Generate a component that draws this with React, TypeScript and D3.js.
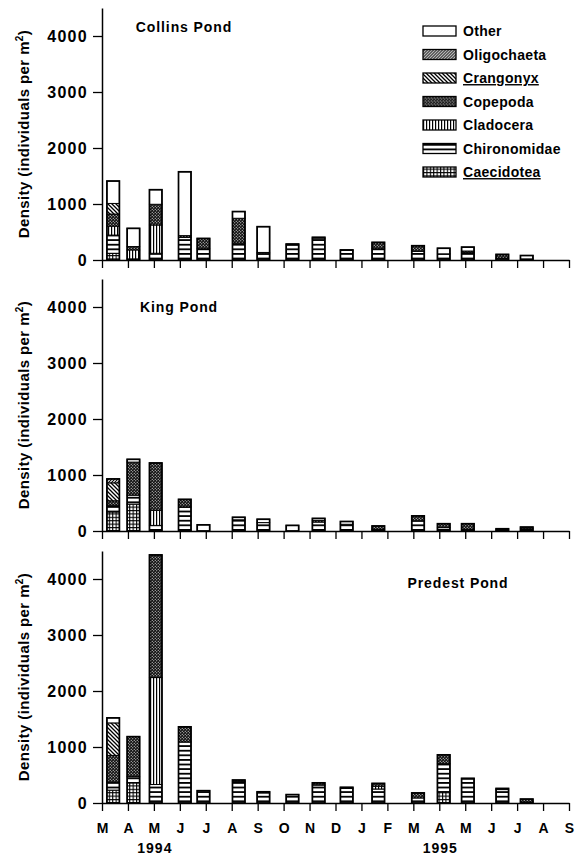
import React, { useEffect, useRef } from 'react';
import * as d3 from 'd3';

// x axis: months from March 1994 to September 1995
const monthLabels = ["M", "A", "M", "J", "J", "A", "S", "O", "N", "D", "J", "F", "M", "A", "M", "J", "J", "A", "S"];
const yearLabels = ["1994", "1995"];
const yearMonthIndex = [2, 13];

// stacking order, bottom to top
const taxa = ["Caecidotea", "Chironomidae", "Cladocera", "Copepoda", "Crangonyx", "Oligochaeta", "Other"];
const legendOrder = ["Other", "Oligochaeta", "Crangonyx", "Copepoda", "Cladocera", "Chironomidae", "Caecidotea"];
const underlined = ["Crangonyx", "Caecidotea"];

// sampling dates, in months after 1 March 1994
const sampleMonths = [0.43, 1.21, 2.07, 3.19, 3.91, 5.27, 6.22, 7.34, 8.35, 9.43, 10.65, 12.18, 13.17, 14.1, 15.43, 16.37];

const yTicks = [0, 1000, 2000, 3000, 4000];

// one row per sampling date: [Caecidotea, Chironomidae, Cladocera, Copepoda, Crangonyx, Oligochaeta, Other]
const collinsPond = [
  [120, 325, 160, 215, 190, 0, 400],
  [0, 20, 160, 60, 0, 0, 325],
  [0, 120, 505, 370, 0, 0, 260],
  [0, 405, 0, 30, 0, 0, 1140],
  [0, 200, 0, 185, 0, 0, 0],
  [0, 300, 0, 445, 0, 0, 120],
  [0, 110, 0, 25, 0, 0, 460],
  [0, 270, 0, 0, 0, 0, 15],
  [0, 380, 0, 0, 0, 0, 25],
  [0, 170, 0, 0, 0, 0, 10],
  [0, 200, 0, 115, 0, 0, 0],
  [0, 155, 0, 100, 0, 0, 0],
  [0, 110, 0, 0, 0, 0, 100],
  [0, 130, 0, 30, 0, 0, 70],
  [0, 30, 0, 70, 0, 0, 0],
  [0, 20, 0, 0, 0, 0, 60],
];

const kingPond = [
  [340, 120, 0, 80, 320, 70, 0],
  [480, 160, 0, 590, 0, 0, 50],
  [0, 100, 270, 845, 0, 0, 0],
  [0, 430, 0, 135, 0, 0, 0],
  [0, 0, 0, 0, 0, 0, 110],
  [0, 200, 0, 0, 0, 0, 45],
  [0, 150, 0, 0, 0, 0, 60],
  [0, 0, 0, 0, 0, 0, 100],
  [0, 160, 0, 30, 0, 0, 35],
  [0, 120, 0, 0, 0, 0, 50],
  [0, 30, 0, 60, 0, 0, 0],
  [0, 180, 0, 90, 0, 0, 0],
  [0, 60, 0, 70, 0, 0, 0],
  [0, 30, 0, 100, 0, 0, 0],
  [0, 20, 0, 20, 0, 0, 0],
  [0, 40, 0, 30, 0, 0, 0],
];

const predestPond = [
  [230, 140, 0, 480, 580, 0, 90],
  [360, 110, 0, 715, 0, 0, 0],
  [0, 330, 1910, 2190, 0, 0, 0],
  [0, 1090, 0, 270, 0, 0, 0],
  [0, 220, 0, 0, 0, 0, 0],
  [0, 380, 0, 30, 0, 0, 0],
  [0, 180, 0, 20, 0, 0, 0],
  [0, 150, 0, 0, 0, 0, 0],
  [0, 320, 0, 40, 0, 0, 0],
  [0, 260, 0, 20, 0, 0, 0],
  [0, 250, 50, 50, 0, 0, 0],
  [0, 90, 0, 90, 0, 0, 0],
  [200, 500, 0, 160, 0, 0, 0],
  [0, 430, 0, 0, 0, 0, 10],
  [0, 240, 0, 0, 0, 0, 20],
  [0, 20, 0, 50, 0, 0, 0],
];

const pondNames = ["Collins Pond", "King Pond", "Predest Pond"];
const pondData = [collinsPond, kingPond, predestPond];

const FONT = "'Liberation Sans', Arial, Helvetica, sans-serif";
const patternId: Record<string, string> = {
  Caecidotea: "url(#p-caec)",
  Chironomidae: "url(#p-chiro)",
  Cladocera: "url(#p-clado)",
  Copepoda: "url(#p-cope)",
  Crangonyx: "url(#p-cran)",
  Oligochaeta: "url(#p-olig)",
  Other: "#fff",
};

const App: React.FC = () => {
  const svgRef = useRef<SVGSVGElement>(null);

  useEffect(() => {
    if (!svgRef.current) return;
    const svg = d3.select(svgRef.current);
    svg.selectAll("*").remove();

    // fill patterns
    const defs = svg.append("defs");
    const pattern = (id: string, w: number, h: number, bg: string) => {
      const p = defs.append("pattern")
        .attr("id", id)
        .attr("patternUnits", "userSpaceOnUse")
        .attr("width", w)
        .attr("height", h);
      p.append("rect").attr("width", w).attr("height", h).attr("fill", bg);
      return p;
    };
    const caec = pattern("p-caec", 3.4, 3.4, "#fff");
    caec.append("rect").attr("width", 1.1).attr("height", 3.4).attr("fill", "#000");
    caec.append("rect").attr("width", 3.4).attr("height", 1.1).attr("fill", "#000");
    const chiro = pattern("p-chiro", 6, 4.6, "#fff");
    chiro.append("rect").attr("width", 6).attr("height", 1.8).attr("fill", "#000");
    const clado = pattern("p-clado", 3, 6, "#fff");
    clado.append("rect").attr("width", 1.2).attr("height", 6).attr("fill", "#000");
    const cope = pattern("p-cope", 3, 3, "#111");
    cope.append("circle").attr("cx", 0.75).attr("cy", 0.75).attr("r", 0.55).attr("fill", "#fff");
    cope.append("circle").attr("cx", 2.25).attr("cy", 2.25).attr("r", 0.55).attr("fill", "#fff");
    const cran = pattern("p-cran", 4, 4, "#fff");
    cran.append("path").attr("d", "M0,0L4,4M-1,3L1,5M3,-1L5,1").attr("stroke", "#000").attr("stroke-width", 1.3);
    const olig = pattern("p-olig", 3, 3, "#fff");
    olig.append("path").attr("d", "M0,3L3,0M-1,1L1,-1M2,4L4,2").attr("stroke", "#000").attr("stroke-width", 1.1);

    const x = d3.scaleLinear().domain([0, 18]).range([102, 569]);
    const barW = 12.5;
    const panelBase = [260, 531, 803];
    const panelH = 252;
    const titlePos = [[184, 27], [179, 307], [458, 583]];

    pondData.forEach((rows, pi) => {
      const base = panelBase[pi];
      const y = d3.scaleLinear().domain([0, 4500]).range([base, base - panelH]);
      const g = svg.append("g");

      // axes
      const yAxis = g.append("g")
        .attr("transform", `translate(${x(0)},0)`)
        .call(d3.axisLeft(y).tickValues(yTicks).tickSize(9).tickSizeOuter(0).tickPadding(5).tickFormat(d3.format("d")))
        .attr("font-family", FONT)
        .attr("font-size", 16)
        .attr("font-weight", "bold");
      yAxis.select(".domain").attr("stroke-width", 1.5);
      yAxis.selectAll("line").attr("stroke-width", 1.3);
      yAxis.selectAll("text").attr("letter-spacing", 1.3).attr("fill", "#000");

      const xAxis = g.append("g")
        .attr("transform", `translate(0,${base})`)
        .call(d3.axisBottom(x).tickValues(d3.range(19)).tickSize(8).tickSizeOuter(0).tickPadding(12)
          .tickFormat((d) => (pi === 2 ? monthLabels[d as number] : "")))
        .attr("font-family", FONT)
        .attr("font-size", 14)
        .attr("font-weight", "bold");
      xAxis.select(".domain").attr("stroke-width", 1.3);
      xAxis.selectAll("line").attr("stroke-width", 1.3);
      xAxis.selectAll("text").attr("fill", "#000");

      // y title
      const yt = g.append("text")
        .attr("transform", `translate(29,${base - panelH / 2}) rotate(-90)`)
        .attr("text-anchor", "middle")
        .attr("font-family", FONT)
        .attr("font-size", 15)
        .attr("font-weight", "bold")
        .attr("letter-spacing", 0.4);
      yt.append("tspan").text("Density (individuals per m");
      yt.append("tspan").attr("dy", -6).attr("font-size", 10).text("2");
      yt.append("tspan").attr("dy", 6).text(")");

      // pond title
      g.append("text")
        .attr("x", titlePos[pi][0])
        .attr("y", titlePos[pi][1])
        .attr("dy", "0.36em")
        .attr("text-anchor", "middle")
        .attr("font-family", FONT)
        .attr("font-size", 14)
        .attr("font-weight", "bold")
        .attr("letter-spacing", 0.9)
        .text(pondNames[pi]);

      // stacked bars
      const stack = d3.stack<number[], number>()
        .keys(d3.range(taxa.length))
        .value((d, k) => d[k]);
      const series = stack(rows);

      series.forEach((layer, li) => {
        g.append("g")
          .selectAll("rect")
          .data(layer.map((d, i) => ({ d, i })).filter((e) => e.d[1] - e.d[0] > 0))
          .enter().append("rect")
          .attr("x", (e) => x(sampleMonths[e.i]) - barW / 2)
          .attr("y", (e) => y(e.d[1]))
          .attr("width", barW)
          .attr("height", (e) => y(e.d[0]) - y(e.d[1]))
          .attr("fill", patternId[taxa[li]])
          .attr("stroke", "#000")
          .attr("stroke-width", 1);
      });

      // bar outlines
      g.append("g")
        .selectAll("rect")
        .data(rows)
        .enter().append("rect")
        .attr("x", (_, i) => x(sampleMonths[i]) - barW / 2)
        .attr("y", (r) => y(d3.sum(r)))
        .attr("width", barW)
        .attr("height", (r) => base - y(d3.sum(r)))
        .attr("fill", "none")
        .attr("stroke", "#000")
        .attr("stroke-width", 1.7);
    });

    // year labels
    svg.append("g")
      .selectAll("text")
      .data(yearLabels)
      .enter().append("text")
      .attr("x", (_, i) => x(yearMonthIndex[i]) + 1)
      .attr("y", 848)
      .attr("dy", "0.36em")
      .attr("text-anchor", "middle")
      .attr("font-family", FONT)
      .attr("font-size", 14)
      .attr("font-weight", "bold")
      .attr("letter-spacing", 1)
      .text((d) => d);

    // legend
    const legend = svg.append("g").attr("transform", "translate(423,31)");
    const item = legend.selectAll("g")
      .data(legendOrder)
      .enter().append("g")
      .attr("transform", (_, i) => `translate(0,${i * 23.5})`);
    item.append("rect")
      .attr("x", 0)
      .attr("y", -5)
      .attr("width", 33)
      .attr("height", 10)
      .attr("fill", (d) => patternId[d])
      .attr("stroke", "#000")
      .attr("stroke-width", 1.3);
    item.append("text")
      .attr("x", 40)
      .attr("dy", "0.36em")
      .attr("font-family", FONT)
      .attr("font-size", 14)
      .attr("font-weight", "bold")
      .attr("letter-spacing", 0.3)
      .attr("text-decoration", (d) => (underlined.includes(d) ? "underline" : null))
      .text((d) => d);
  }, []);

  return (
    <svg
      ref={svgRef}
      width={585}
      height={857}
      style={{ position: "absolute", left: 0, top: 0, background: "#fff" }}
    />
  );
};

export default App;
